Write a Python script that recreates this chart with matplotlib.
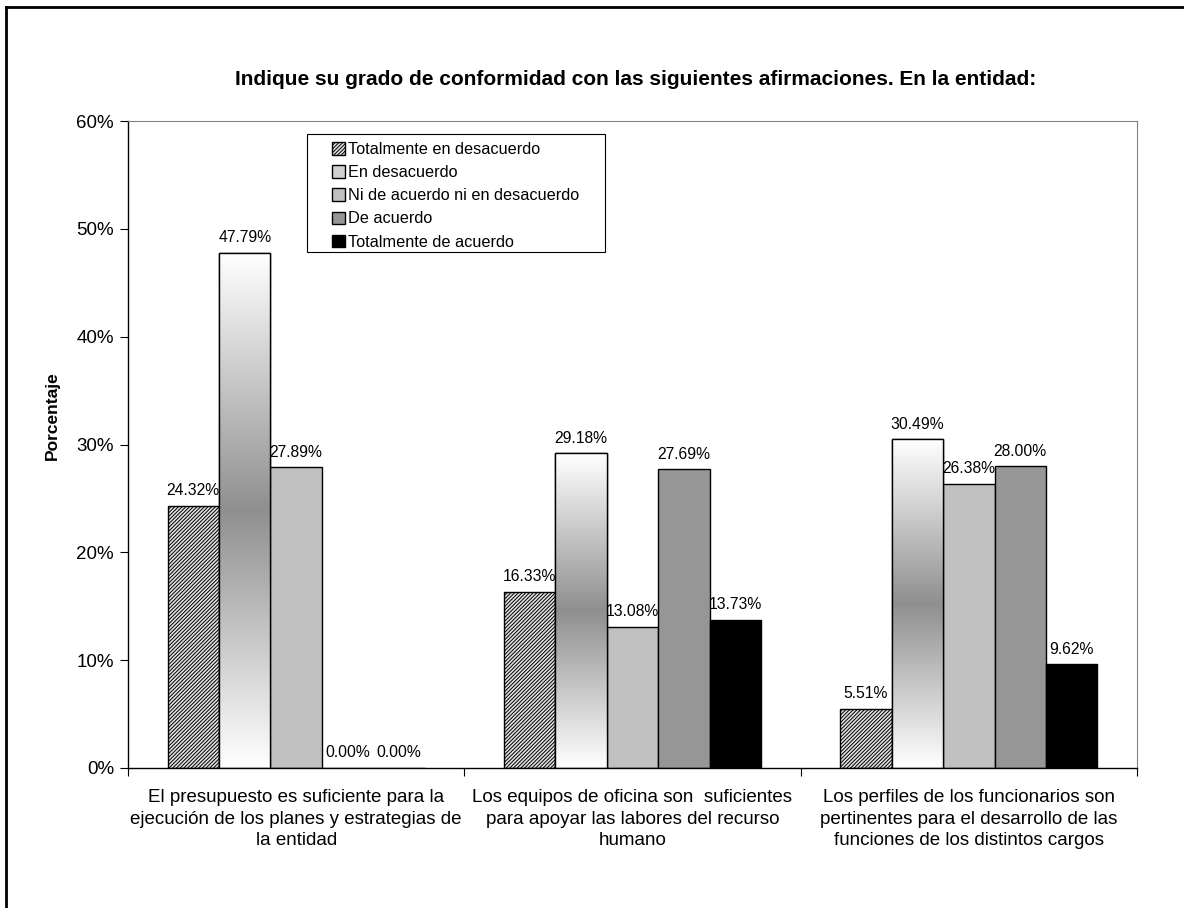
import numpy as np
import matplotlib
matplotlib.use("Agg")
from matplotlib import pyplot as plt
from matplotlib.patches import Patch, Rectangle
from matplotlib.lines import Line2D
from matplotlib.colors import LinearSegmentedColormap

plt.rcParams['font.family'] = ['Liberation Sans', 'DejaVu Sans']
plt.rcParams['hatch.linewidth'] = 0.7

categories = [
    "El presupuesto es suficiente para la\nejecución de los planes y estrategias de\nla entidad",
    "Los equipos de oficina son  suficientes\npara apoyar las labores del recurso\nhumano",
    "Los perfiles de los funcionarios son\npertinentes para el desarrollo de las\nfunciones de los distintos cargos",
]
series = [
    "Totalmente en desacuerdo",
    "En desacuerdo",
    "Ni de acuerdo ni en desacuerdo",
    "De acuerdo",
    "Totalmente de acuerdo",
]
tot_desacuerdo = [24.32, 16.33, 5.51]
en_desacuerdo = [47.79, 29.18, 30.49]
ni_ni = [27.89, 13.08, 26.38]
de_acuerdo = [0.00, 27.69, 28.00]
tot_acuerdo = [0.00, 13.73, 9.62]
values = [tot_desacuerdo, en_desacuerdo, ni_ni, de_acuerdo, tot_acuerdo]

faces = ['#e0e0e0', 'white', '#c0c0c0', '#969696', 'black']
hatches = ['/////////', None, None, None, None]

fig = plt.figure(figsize=(11.84, 9.08), dpi=100)
ax = fig.add_axes([0.1081, 0.1542, 0.8522, 0.7125])

x = np.arange(len(categories))
w = 0.153
grad = np.abs(np.linspace(-1, 1, 256))[:, None]
gcmap = LinearSegmentedColormap.from_list('g', ['#8f8f8f', '#ffffff'])

for i, vals in enumerate(values):
    pos = x + (i - 2) * w
    bars = ax.bar(pos, vals, width=w, color=faces[i], edgecolor='black',
                  linewidth=1.0, hatch=hatches[i], zorder=2)
    for b, v in zip(bars, vals):
        if i == 1:
            bx = b.get_x()
            im = ax.imshow(grad, cmap=gcmap, aspect='auto', zorder=2.5,
                           extent=[bx, bx + b.get_width(), 0, b.get_height()],
                           vmin=0, vmax=1)
            im.set_clip_path(b)
            ax.add_patch(Rectangle((bx, 0), b.get_width(), b.get_height(),
                                   fill=False, edgecolor='black', lw=1.0, zorder=3))
        ax.text(b.get_x() + w / 2, v + 0.7, f"{v:.2f}%", ha='center', va='bottom',
                fontsize=11.3)

ax.set_xlim(-0.5, 2.5)
ax.set_ylim(0, 60)
ax.set_yticks(np.arange(0, 61, 10))
ax.set_yticklabels([f"{t}%" for t in range(0, 61, 10)], fontsize=13.5)
ax.set_xticks([-0.5, 0.5, 1.5, 2.5])
ax.set_xticklabels([])
ax.set_xticks(x, minor=True)
ax.set_xticklabels(categories, minor=True, fontsize=13.5, linespacing=1.37)
ax.tick_params(axis='x', which='minor', length=0, pad=15)
ax.tick_params(axis='x', which='major', length=6, direction='out')
ax.tick_params(axis='y', length=6, direction='out', pad=4)
ax.spines['top'].set_color('#808080')
ax.spines['right'].set_color('#808080')
ax.spines['left'].set_linewidth(1.0)
ax.spines['bottom'].set_linewidth(1.0)

ax.set_ylabel("Porcentaje", fontsize=12.5, fontweight='bold')
ax.yaxis.set_label_coords(-0.068, 0.544)
fig.text(0.537, 0.912, "Indique su grado de conformidad con las siguientes afirmaciones. En la entidad:",
         ha='center', va='center', fontsize=15, fontweight='bold')
fig.text(0.505, 1.009, "GRAFICO 6.9", ha='center', va='center', fontsize=16, fontweight='bold')

# legend box drawn by hand (wider padding than the legend's own frame)
ax.add_patch(Rectangle((0.1774, 0.7975), 0.2953, 0.1824, transform=ax.transAxes,
                       facecolor='white', edgecolor='black', lw=0.8, zorder=4))
handles = [Patch(facecolor=faces[i], edgecolor='black', hatch=hatches[i]) for i in range(5)]
handles[1] = Patch(facecolor='#d0d0d0', edgecolor='black')
leg = ax.legend(handles, series, loc='upper left', bbox_to_anchor=(0.2022, 0.9675),
                fontsize=11.7, frameon=False,
                handlelength=0.8, handleheight=0.8, handletextpad=0.2,
                labelspacing=0.5, borderpad=0, borderaxespad=0)
leg.set_zorder(5)

fig.add_artist(Line2D([6 / 1184, 6 / 1184], [0, 1 - 7 / 908], color='black', lw=2))
fig.add_artist(Line2D([6 / 1184, 1], [1 - 7 / 908, 1 - 7 / 908], color='black', lw=2))

fig.savefig("out.png", dpi=100)
